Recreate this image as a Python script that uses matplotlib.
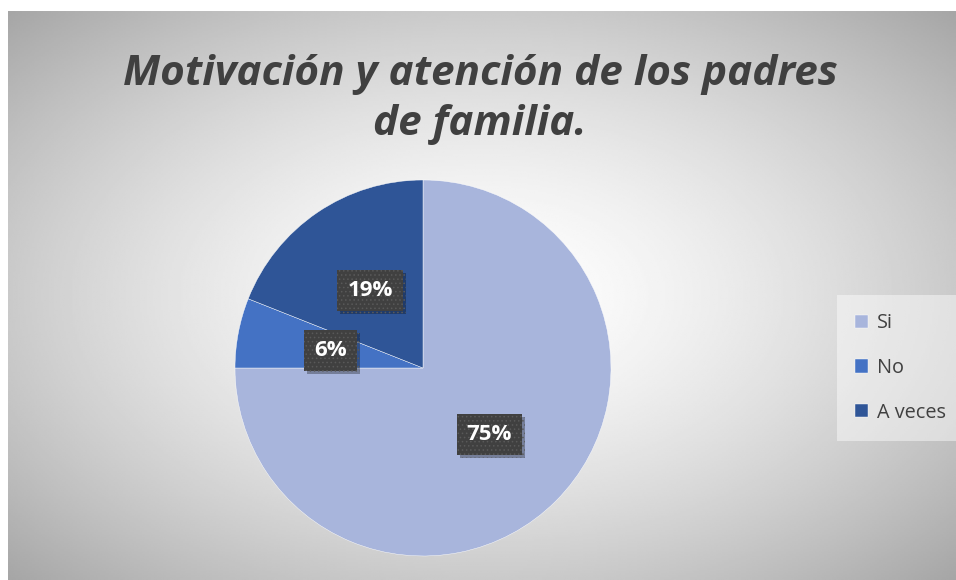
import matplotlib.pyplot as plt
import matplotlib.patheffects as pe
import numpy as np

categories = ['Si', 'No', 'A veces']
shares = [75, 6, 19]
colors = ['#A8B5DC', '#4472C4', '#2F5597']
title = 'Motivación y atención de los padres\nde familia.'

fig = plt.figure(figsize=(9.56, 5.8), dpi=100)

# background: white outer margin, radial grey gradient panel
bg = fig.add_axes([8 / 956, 0, 1 - 8 / 956, 1 - 11 / 580])
bg.set_axis_off()
yy, xx = np.mgrid[0:1:300j, 0:1:500j]
r = np.sqrt(((xx - 0.5) / 0.72) ** 2 + ((yy - 0.5) / 0.72) ** 2)
shade = 1.0 - 0.36 * np.clip(r, 0, 1) ** 1.5
bg.imshow(shade, cmap='gray', vmin=0, vmax=1, extent=[0, 1, 1, 0],
          aspect='auto', interpolation='bilinear')

fig.text(0.502, 1 - 135 / 580, title, ha='center', va='baseline',
         fontsize=30.4, fontweight='bold', fontstyle='italic',
         color='#404040', family='Open Sans', linespacing=1.3)

ax = fig.add_axes([(423 - 188) / 956, 1 - (368 + 188) / 580,
                   376 / 956, 376 / 580])
wedges, texts, autotexts = ax.pie(
    shares, colors=colors, startangle=90, counterclock=False,
    autopct='%1.0f%%', pctdistance=0.5,
    wedgeprops=dict(edgecolor='white', linewidth=0.3),
    textprops=dict(color='white', fontsize=16, fontweight='bold',
                   family='Open Sans'))
ax.set_xlim(-1, 1)
ax.set_ylim(-1, 1)
ax.set_aspect('equal')
plt.rcParams['hatch.linewidth'] = 0.6
for t in autotexts:
    t.set_bbox(dict(boxstyle='square,pad=0.45', facecolor='#404040',
                    edgecolor='#595959', linewidth=0, hatch='....'))
    t.get_bbox_patch().set_path_effects(
        [pe.SimplePatchShadow(offset=(2, -2), shadow_rgbFace='black', alpha=0.3),
         pe.Normal()])

leg = fig.legend(wedges, categories, loc='center left',
                 bbox_to_anchor=(843 / 956, 1 - 368 / 580), frameon=True,
                 handlelength=0.65, handleheight=0.65, borderaxespad=0,
                 handletextpad=0.45, labelspacing=1.25, borderpad=0.6,
                 prop=dict(family='Open Sans', size=14.3))
leg.get_frame().set_facecolor('white')
leg.get_frame().set_alpha(0.45)
leg.get_frame().set_linewidth(0)
leg.get_frame().set_boxstyle('square')
for t in leg.get_texts():
    t.set_color('#404040')

fig.savefig('out.png', dpi=100)
